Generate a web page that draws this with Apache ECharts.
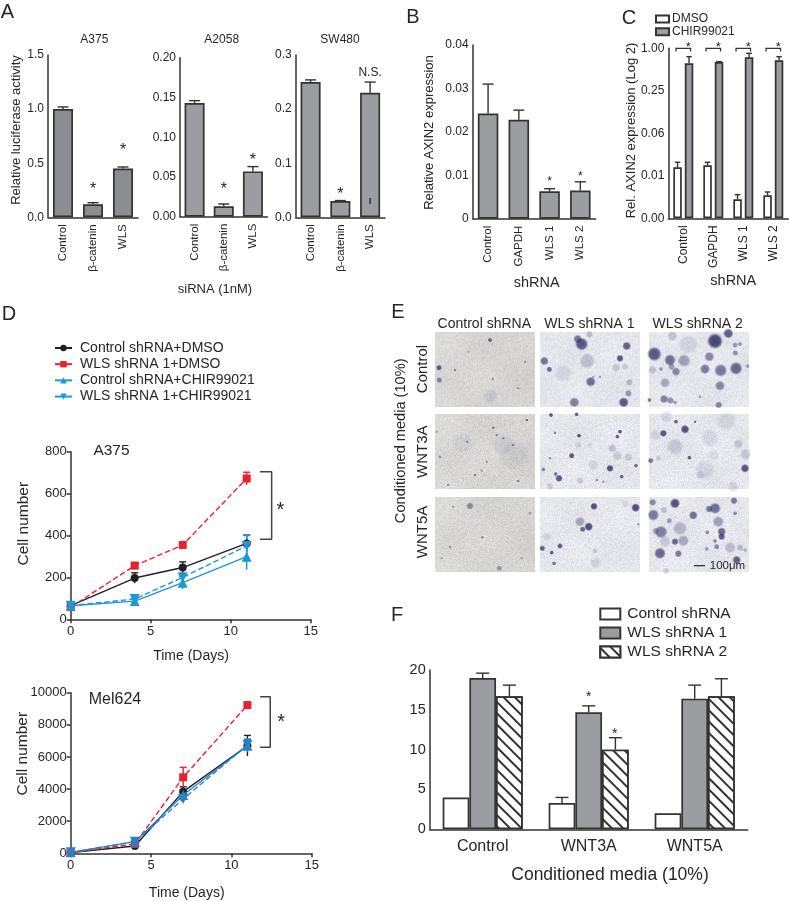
<!DOCTYPE html>
<html><head><meta charset="utf-8">
<style>html,body{margin:0;padding:0;background:#fff}#c{width:790px;height:901px}</style>
<script src="https://cdn.jsdelivr.net/npm/echarts@6/dist/echarts.min.js"></script>
</head><body><div id="c"></div>
<script>
// ---------- data ----------
const sirnaCats = ['Control','β-catenin','WLS'];
const a375Values = [1.0,0.12,0.45];
const a375Upper = [1.02,0.135,0.465];
const a2058Values = [0.143,0.013,0.057];
const a2058Upper = [0.146,0.016,0.063];
const sw480Values = [0.25,0.03,0.23];
const sw480Upper = [0.254,0.031,0.25];
const shCats = ['Control','GAPDH','WLS 1','WLS 2'];
const axin2Values = [0.0242,0.0228,0.0063,0.0065];
const axin2Upper = [0.031,0.025,0.0069,0.0085];
const dmsoValues = [0.0206,0.0220,0.00726,0.00827];
const dmsoUpper = [0.0243,0.0243,0.00845,0.00922];
const chirValues = [0.613,0.640,0.746,0.676];
const chirUpper = [0.762,0.648,0.850,0.762];
const cTickLabels = ['0.00','0.01','0.06','0.25','1.00'];
const days = [0,4,7,11];
const dNames = ['Control shRNA+DMSO','WLS shRNA 1+DMSO','Control shRNA+CHIR99021','WLS shRNA 1+CHIR99021'];
const a375Ctrl = [65,197,247,362], a375CtrlErr = [8,25,27,40];
const a375Wls = [58,256,355,672], a375WlsErr = [8,15,12,30];
const a375CtrlChir = [65,87,175,299], a375CtrlChirErr = [8,12,30,62];
const a375WlsChir = [65,97,200,350], a375WlsChirErr = [8,10,20,50];
const melCtrl = [50,456,3840,6700], melCtrlErr = [50,60,300,640];
const melWls = [50,580,4730,9230], melWlsErr = [50,60,620,100];
const melCtrlChir = [60,726,3630,6700], melCtrlChirErr = [50,150,250,400];
const melWlsChir = [60,726,3380,6750], melWlsChirErr = [50,120,200,350];
const fCats = ['Control','WNT3A','WNT5A'];
const fNames = ['Control shRNA','WLS shRNA 1','WLS shRNA 2'];
const fCtrl = [4.0,3.3,2.0], fCtrlUpper = [4.0,4.0,2.0];
const fWls1 = [19.0,14.7,16.4], fWls1Upper = [19.6,15.5,18.1];
const fWls2 = [16.7,10.0,16.7], fWls2Upper = [18.1,11.5,18.9];
// colonies in each micrograph: x, y (0-300, 0-225), diameter, darkness
const colonies = [
 [[12,108,4,.85],[13,145,4,.6],[165,25,3,.8],[60,115,2,.6],[173,142,2,.5],[168,193,10,.12],[250,170,2,.4],[100,60,2,.3],[270,90,2,.4]],
 [[125,37,9,.9],[113,22,6,.7],[148,8,5,.3],[260,43,6,.85],[240,80,5,.9],[13,88,6,.75],[28,113,4,.8],[152,150,7,.75],[103,212,7,.65],[251,212,7,.9],[265,185,5,.5],[268,152,5,.3],[142,88,11,.25],[70,125,13,.12],[228,108,6,.22],[255,105,5,.2],[180,135,2,.5],[160,135,2,.4]],
 [[198,28,11,1],[16,67,10,.9],[238,5,7,.85],[63,85,8,.75],[105,87,9,.45],[181,75,7,.6],[215,116,9,.7],[261,110,9,.8],[168,112,7,.7],[81,120,6,.6],[68,105,5,.45],[48,153,7,.4],[213,162,7,.6],[45,202,6,.65],[64,206,5,.55],[78,212,3,.5],[209,220,5,.6],[118,38,14,.13],[70,13,7,.25],[258,40,4,.5],[273,37,3,.5],[259,64,4,.55],[296,103,3,.5],[153,195,2,.5],[10,115,6,.25],[36,112,3,.5],[1,205,3,.7]],
 [[275,18,2,.8],[175,41,2,.7],[185,63,2,.6],[235,93,2,.5],[205,73,2,.5],[120,183,2,.7],[250,201,2,.6],[40,213,2,.5],[5,53,2,.4],[155,143,2,.5],[15,128,2,.5],[97,83,2,.5],[235,123,22,.07],[85,88,16,.07],[205,93,16,.07],[140,170,2,.4]],
 [[33,3,3,.9],[110,1,3,.85],[117,65,3,.95],[240,53,3,.9],[232,68,3,.85],[45,56,2,.7],[95,125,4,.9],[210,163,5,.95],[57,193,5,.9],[47,180,3,.7],[245,188,3,.8],[288,155,3,.75],[10,166,3,.6],[120,200,5,.22],[217,103,6,.25],[232,126,7,.18],[265,130,6,.2],[160,153,8,.13],[150,93,4,.13],[30,218,5,.18],[115,93,5,.15],[30,133,2,.6],[170,198,2,.6],[190,203,2,.5]],
 [[108,46,6,.95],[43,58,5,.9],[81,23,3,.85],[138,23,2,.8],[121,131,3,.85],[5,140,4,.7],[288,163,6,.9],[233,21,14,.12],[183,73,13,.13],[78,98,12,.18],[18,63,8,.15],[168,168,14,.12],[153,183,6,.15],[268,90,7,.22],[290,121,8,.2],[193,123,8,.1],[53,8,9,.15],[253,218,8,.15],[28,133,4,.2]],
 [[105,27,5,.55],[193,214,4,.45],[142,121,2,.6],[55,29,2,.4],[45,151,2,.5],[20,184,2,.4],[285,49,2,.5],[260,184,2,.4]],
 [[162,28,5,.95],[287,32,6,.95],[146,89,6,.95],[128,97,4,.8],[120,74,7,.4],[60,147,4,.85],[7,154,4,.85],[35,167,3,.85],[42,199,3,.7],[165,162,4,.2],[167,197,8,.15],[20,119,6,.14],[255,19,6,.1],[295,82,2,.5]],
 [[78,19,7,.95],[13,54,8,.7],[198,34,8,.75],[180,36,5,.7],[255,11,5,.7],[133,55,6,.75],[11,16,5,.6],[45,39,5,.25],[61,71,4,.5],[93,94,10,.3],[36,105,9,.65],[20,102,5,.4],[78,134,5,.8],[103,131,8,.4],[218,104,6,.8],[218,119,5,.85],[208,74,8,.45],[198,132,3,.6],[175,106,3,.6],[243,152,8,.28],[273,152,5,.3],[288,159,3,.35],[33,169,8,.8],[88,170,5,.7],[48,134,8,.2],[173,156,3,.5],[263,189,6,.85],[203,149,4,.6],[51,222,5,.2],[258,49,3,.6]]
];
// ---------- styles ----------
const FONT='"Liberation Sans",Arial,sans-serif', TXT='#262626', LINE='#333';
const GRAY='#9b9da0', BLACK='#231f20', RED='#e8202f', BLUE='#1f97d6', BLUE2='#2a82c4';
const grids=[], xAxes=[], yAxes=[], series=[];
const AXW=1.5;
function axisLineStyle(){return {show:true,onZero:false,lineStyle:{color:LINE,width:AXW}};}
function addGrid(l,t,w,h,x,y){
  grids.push({left:l,top:t,width:w,height:h});
  const i=grids.length-1;
  xAxes.push(Object.assign({gridIndex:i,axisLine:axisLineStyle(),splitLine:{show:false},axisTick:{length:4,lineStyle:{color:LINE,width:AXW}}},x));
  yAxes.push(Object.assign({gridIndex:i,axisLine:axisLineStyle(),splitLine:{show:false},axisTick:{length:4,lineStyle:{color:LINE,width:AXW}}},y));
  return i;
}
function catAxis(data,rot,size,margin){
  return {type:'category',data,axisTick:{alignWithLabel:true,length:4,lineStyle:{color:LINE,width:AXW}},
    axisLabel:{interval:0,rotate:rot,color:TXT,fontFamily:FONT,fontSize:size,margin}};
}
function valAxis(min,max,interval,fmt,size,margin){
  return {type:'value',min,max,interval,axisLabel:{color:TXT,fontFamily:FONT,fontSize:size,margin,formatter:fmt,showMinLabel:true,showMaxLabel:true}};
}
function barS(i,name,vals,fill,w,gap,extra){
  return Object.assign({type:'bar',name,xAxisIndex:i,yAxisIndex:i,data:vals,barWidth:w,barGap:gap,
    itemStyle:{color:fill,borderColor:LINE,borderWidth:1.7},z:2},extra||{});
}
// whisker: [x, low, high]; drawn through the axis scale
function errS(i,rows,color,cap,dx,lw,noCap){
  return {type:'custom',xAxisIndex:i,yAxisIndex:i,data:rows,z:3,silent:true,clip:false,
    renderItem(p,api){
      const a=api.coord([api.value(0),api.value(1)]),b=api.coord([api.value(0),api.value(2)]);
      const x=a[0]+(dx||0),st={stroke:color,lineWidth:lw||1.4,fill:'none'};
      const ch=[{type:'line',shape:{x1:x,y1:a[1],x2:x,y2:b[1]},style:st}];
      if(!noCap){ch.push({type:'line',shape:{x1:x-cap/2,y1:b[1],x2:x+cap/2,y2:b[1]},style:st});}
      return {type:'group',children:ch};
    }};
}
function upper(vals,ups){return vals.map((v,k)=>[k,v,ups[k]]);}
function annS(i,rows,size,dx,dy){
  return {type:'custom',xAxisIndex:i,yAxisIndex:i,data:rows.map(r=>[r[0],r[1]]),z:4,silent:true,clip:false,
    renderItem(p,api){
      const c=api.coord([api.value(0),api.value(1)]);
      return {type:'text',x:c[0]+(dx||0),y:c[1]+(dy||0),style:{text:rows[p.dataIndex][2],fill:TXT,fontFamily:FONT,fontSize:size,align:'center',verticalAlign:'middle'}};
    }};
}
// ---------- A ----------
const g1=addGrid(48,55,90,162.3,catAxis(sirnaCats,90,11.5,7),valAxis(0,1.5,0.5,v=>v.toFixed(1),12,4));
series.push(barS(g1,'A375',a375Values,'#8b8d90',20),errS(g1,upper(a375Values,a375Upper),LINE,11),
  annS(g1,[[1,0.25,'*'],[2,0.61,'*']],16,0,-0.5));
const g2=addGrid(180,57.7,87.5,159,catAxis(sirnaCats,90,11.5,7),valAxis(0,0.2,0.05,v=>v.toFixed(2),12,4));
series.push(barS(g2,'A2058',a2058Values,GRAY,20),errS(g2,upper(a2058Values,a2058Upper),LINE,11),
  annS(g2,[[1,0.036,'*'],[2,0.073,'*']],16,0,1.5));
const g3=addGrid(295.7,55,89.3,162.3,catAxis(sirnaCats,90,11.5,7),valAxis(0,0.3,0.1,v=>v.toFixed(1),12,4));
series.push(barS(g3,'SW480',sw480Values,GRAY,20),errS(g3,upper(sw480Values,sw480Upper),LINE,11),
  errS(g3,[[2,0.0246,0.0357]],LINE,0,0,1.5,true),
  annS(g3,[[1,0.044,'*']],16,0,1.5),annS(g3,[[2,0.268,'N.S.']],12,0,0));
// ---------- B ----------
const g4=addGrid(472.7,45,123,173.7,catAxis(shCats,90,11.5,7),valAxis(0,0.04,0.01,v=>v===0?'0':v.toFixed(2),12,4));
series.push(barS(g4,'AXIN2',axin2Values,GRAY,20.5),errS(g4,upper(axin2Values,axin2Upper),LINE,11),
  annS(g4,[[2,0.0088,'*'],[3,0.0098,'*']],12,0,1));
// ---------- C ----------
const g5=addGrid(668.3,48.3,120,170,catAxis(shCats,90,12,7),
  {type:'log',logBase:4,min:1/256,max:1,startValue:1/256,axisLabel:{color:TXT,fontFamily:FONT,fontSize:12,margin:4,
    formatter:v=>cTickLabels[Math.round(Math.log(v*256)/Math.log(4))]}});
series.push(
  barS(g5,'DMSO',dmsoValues,'#ffffff',8.5,'35%'),
  barS(g5,'CHIR99021',chirValues,GRAY,8.5,'35%'),
  errS(g5,upper(dmsoValues,dmsoUpper),LINE,5.5,-5.75),
  errS(g5,upper(chirValues,chirUpper),LINE,5.5,5.75),
  {type:'custom',xAxisIndex:g5,yAxisIndex:g5,data:[[0,1],[1,1],[2,1],[3,1]],silent:true,clip:false,z:4,
   renderItem(p,api){
     const c=api.coord([api.value(0),api.value(1)]),st={stroke:LINE,lineWidth:1.3,fill:'none'};
     return {type:'polyline',shape:{points:[[c[0]-5.75-1.5,c[1]+3.3],[c[0]-5.75-1.5,c[1]],[c[0]+5.75+1.5,c[1]],[c[0]+5.75+1.5,c[1]+3.3]]},style:st};
   }},
  annS(g5,[[0,1,'*'],[1,1,'*'],[2,1,'*'],[3,1,'*']],13,5,-1));
// ---------- D ----------
function lineAxes(max,int){return [
  {type:'value',min:0,max:15,interval:5,axisLabel:{color:TXT,fontFamily:FONT,fontSize:13,margin:6,showMaxLabel:true}},
  valAxis(0,max,int,v=>String(v),13,4)];}
function dLines(i,rows,errColors){
  const sty=[[BLACK,'solid','circle',0],[RED,'dashed','rect',0],[errColors,'solid','triangle',0],[errColors,'dashed','triangle',180]];
  rows.forEach((r,k)=>{
    const [c,t,sym,rot]=sty[k];
    series.push({type:'line',name:dNames[k],xAxisIndex:i,yAxisIndex:i,data:days.map((d,n)=>[d,r[0][n]]),
      lineStyle:{color:c,width:1.4,type:t},itemStyle:{color:c},symbol:sym,symbolRotate:rot,symbolSize:k===0?8:(k===1?8:10),showSymbol:true,z:5+k,clip:false});
    series.push(errS(i,days.map((d,n)=>[d,r[0][n]-r[1][n],r[0][n]+r[1][n]]),c,7));
  });
}
let ax=lineAxes(800,200);
const g6=addGrid(70.7,451.7,240,167.6,ax[0],ax[1]);
dLines(g6,[[a375Ctrl,a375CtrlErr],[a375Wls,a375WlsErr],[a375CtrlChir,a375CtrlChirErr],[a375WlsChir,a375WlsChirErr]],BLUE);
const a375Bracket=[[11.83,704],[12.56,704],[12.56,382],[11.83,382]];
series.push({type:'line',xAxisIndex:g6,yAxisIndex:g6,data:a375Bracket,symbol:'none',lineStyle:{color:'#444',width:1.5},silent:true,z:4},
  annS(g6,[[13.1,540,'*']],20,0,4));
ax=lineAxes(10000,2000);
const g7=addGrid(70.7,692.7,241,160.6,ax[0],ax[1]);
dLines(g7,[[melCtrl,melCtrlErr],[melWls,melWlsErr],[melCtrlChir,melCtrlChirErr],[melWlsChir,melWlsChirErr]],BLUE2);
const melBracket=[[11.79,9750],[12.42,9750],[12.42,6600],[11.79,6600]];
series.push({type:'line',xAxisIndex:g7,yAxisIndex:g7,data:melBracket,symbol:'none',lineStyle:{color:'#444',width:1.5},silent:true,z:4},
  annS(g7,[[13.1,8400,'*']],20,0,4));
// ---------- E ----------
const eCols=[435,540,649], eRows=[331.7,414,497], eW=100, eH=75;
function tile(seed,base){
  const cv=document.createElement('canvas');cv.width=eW;cv.height=eH;
  const ctx=cv.getContext('2d'),im=ctx.createImageData(eW,eH);
  for(let j=0;j<eH;j++)for(let i=0;i<eW;i++){
    const s=Math.sin((i+seed)*12.9898+(j+seed*3)*78.233)*43758.5453,h=s-Math.floor(s);
    const lo=4*Math.sin(i/13+seed)*Math.cos(j/11-seed)+(seed%3===1?-6*(i/eW):0);
    const n=(h-0.5)*22+lo-(h>0.97?18:0);
    const o=(j*eW+i)*4;
    im.data[o]=base[0]+n;im.data[o+1]=base[1]+n;im.data[o+2]=base[2]+n;im.data[o+3]=255;
  }
  ctx.putImageData(im,0,0);return cv;
}
function soft(a){
  return new echarts.graphic.RadialGradient(0.5,0.5,0.5,[
    {offset:0,color:'rgba(26,26,84,'+a+')'},
    {offset:0.65,color:'rgba(34,34,94,'+(a*0.95)+')'},
    {offset:1,color:'rgba(70,70,130,0)'}]);
}
const eImages=[];
colonies.forEach((rows,k)=>{
  const col=k%3,row=Math.floor(k/3);
  eImages.push({type:'image',z:0,silent:true,style:{image:tile(k+1,col===0?[218,217,215]:[230,231,236]),x:eCols[col],y:eRows[row],width:eW,height:eH}});
  const i=addGrid(eCols[col],eRows[row],eW,eH,
    {type:'value',min:0,max:300,show:false},{type:'value',min:0,max:225,inverse:true,show:false});
  series.push({type:'scatter',xAxisIndex:i,yAxisIndex:i,data:rows,symbolSize:d=>d[2]*1.5,silent:true,z:2,
    itemStyle:{color:p=>soft(p.data[3])}});
});
// ---------- F ----------
const hatch={symbol:'rect',symbolSize:1,dashArrayX:[1,0],dashArrayY:[1.4,5.6],rotation:Math.PI/4,color:'#333',backgroundColor:'#fff'};
const g8=addGrid(429.7,670,318,159.3,catAxis(fCats,0,16,9),valAxis(0,20,5,undefined,14.5,4));
series.push(
  barS(g8,fNames[0],fCtrl,'#ffffff',26.7,'0%'),
  barS(g8,fNames[1],fWls1,GRAY,26.7,'0%'),
  barS(g8,fNames[2],fWls2,'#ffffff',26.7,'0%',{itemStyle:{color:'#ffffff',borderColor:LINE,borderWidth:1.7,decal:hatch}}),
  errS(g8,[[1,3.3,4.0]],LINE,13,-26.7),
  errS(g8,upper(fWls1,fWls1Upper),LINE,13,0),
  errS(g8,upper(fWls2,fWls2Upper),LINE,13,26.7),
  annS(g8,[[1,17,'*']],14,0,3),
  annS(g8,[[1,12.3,'*']],14,26,3));
// ---------- free text ----------
const texts=[
 ['A',7.5,12,20,0],['B',413,17.5,20,0],['C',629,18.5,20,0],['D',9,314,20,0],['E',398,312,20,0],['F',397,615,20,0],
 ['A375',94.3,39.5,12,0],['A2058',221.7,40,12,0],['SW480',340,40,12,0],
 ['Relative luciferase activity',16,130,13,90],['siRNA (1nM)',215,289,13,0],
 ['Relative AXIN2 expression',429.3,132.5,13,90],['shRNA',536.7,282.7,14.5,0],
 ['Rel. AXIN2 expression (Log 2)',631.7,130.5,13,90],['shRNA',733.3,281,14.5,0],
 ['Cell number',24,523.7,15.5,90],['Time (Days)',191,656,14,0],['A375',111.5,450.7,15.5,0],
 ['Cell number',22.7,753.7,15.5,90],['Time (Days)',186.7,892.7,14,0],['Mel624',115,699.5,16,0],
 ['Control shRNA',484.3,324,14,0],['WLS shRNA 1',589.3,324,14,0],['WLS shRNA 2',697.7,324,14,0],
 ['Control',423.3,369,15,90],['WNT3A',423.3,451.7,15,90],['WNT5A',423.3,532,15,90],
 ['Conditioned media (10%)',400.7,440.8,14.6,90],['100μm',727.5,565.5,11.5,0],
 ['Conditioned media (10%)',610,875,17.5,0]
];
const graphicEls=eImages.concat(
 [{type:'line',z:10,shape:{x1:694,y1:565.7,x2:705,y2:565.7},style:{stroke:'#222',lineWidth:1.2}}],
 texts.map(t=>({type:'text',z:10,silent:true,x:t[1],y:t[2],rotation:t[4]*Math.PI/180,
   style:{text:t[0],fill:TXT,fontFamily:FONT,fontSize:t[3],align:'center',verticalAlign:'middle'}})));
const chart=echarts.init(document.getElementById('c'),null,{renderer:'canvas',width:790,height:901});
chart.setOption({
  animation:false,backgroundColor:'#fff',grid:grids,xAxis:xAxes,yAxis:yAxes,series,
  graphic:{elements:graphicEls},
  legend:[
   {data:['DMSO','CHIR99021'],orient:'vertical',icon:'rect',left:655,top:13,itemWidth:13,itemHeight:7,itemGap:0.7,selectedMode:false,padding:0,
    textStyle:{color:TXT,fontFamily:FONT,fontSize:12,padding:[0,0,0,-2]}},
   {data:dNames,orient:'vertical',left:54,top:341,itemWidth:17,itemHeight:8,itemGap:2.2,selectedMode:false,padding:0,
    lineStyle:{type:'solid'},textStyle:{color:TXT,fontFamily:FONT,fontSize:14,padding:[0,0,0,3]}},
   {data:fNames,orient:'vertical',icon:'rect',left:599.3,top:606,itemWidth:20,itemHeight:11,itemGap:3,selectedMode:false,padding:0,
    textStyle:{color:TXT,fontFamily:FONT,fontSize:15.5,padding:[0,0,0,2]}}
  ]
});
</script></body></html>
